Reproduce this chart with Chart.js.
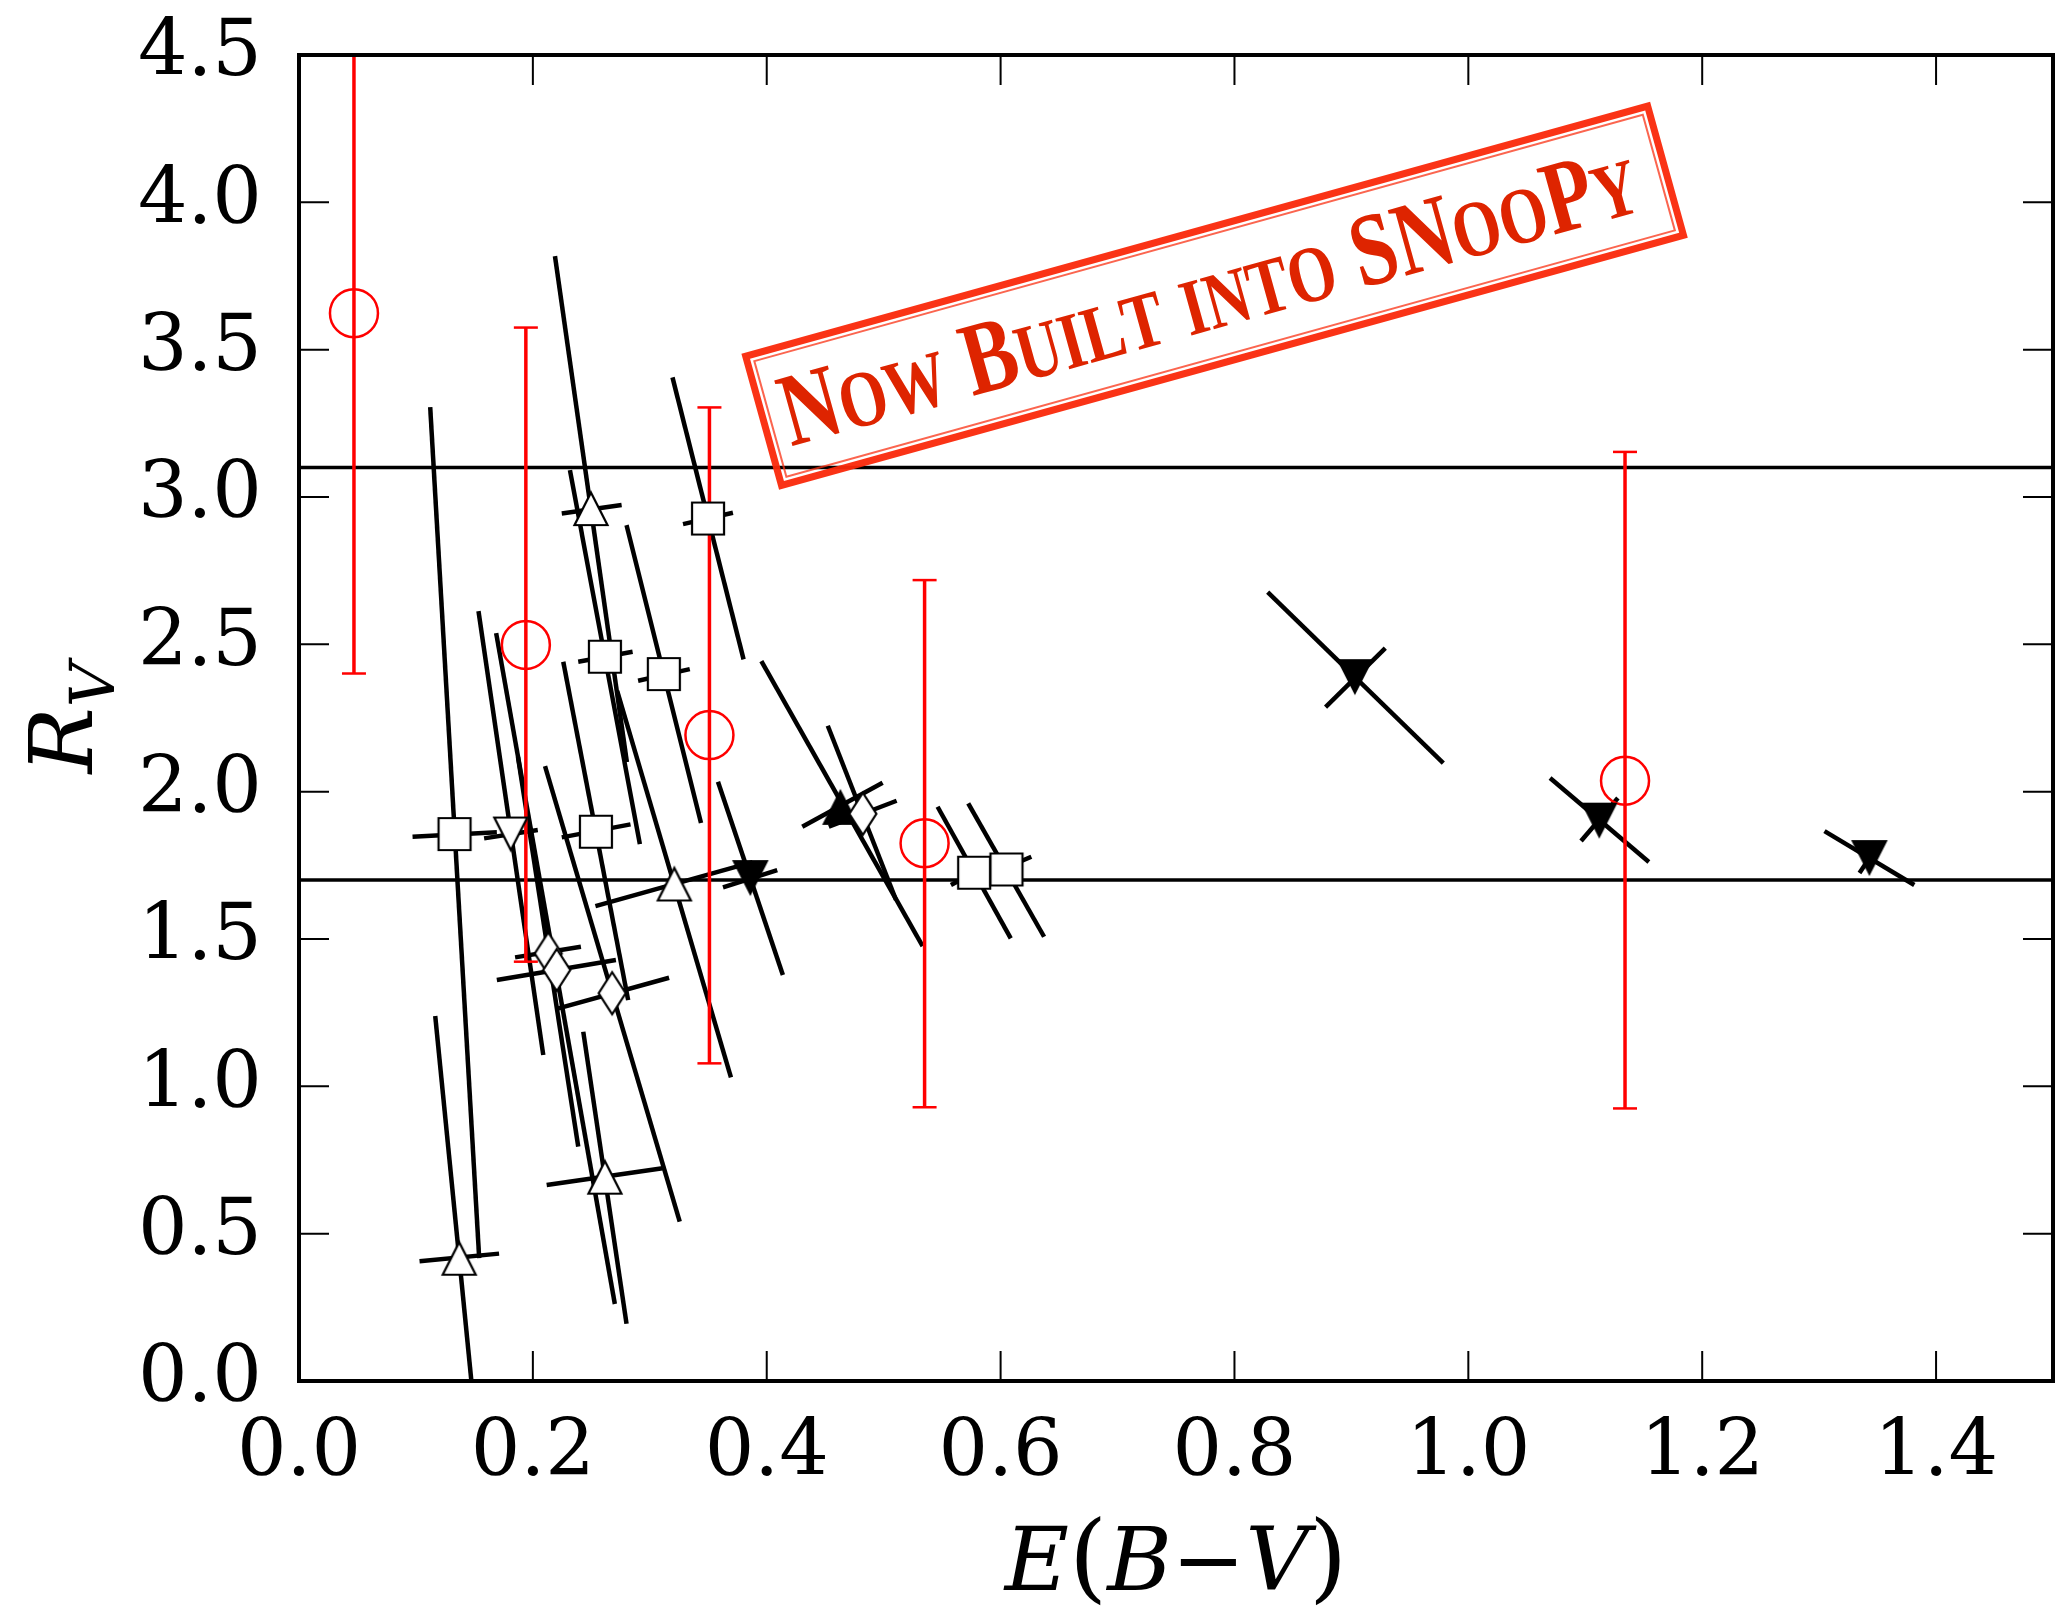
<!DOCTYPE html>
<html>
<head>
<meta charset="utf-8">
<title>R_V vs E(B-V)</title>
<script src="https://cdn.jsdelivr.net/npm/chart.js@4.4.1/dist/chart.umd.min.js"></script>
<style>
  html, body { margin: 0; padding: 0; background: #fff; }
  canvas { display: block; }
</style>
</head>
<body>
<canvas id="rvChart" width="2055" height="1617"></canvas>
<script>
const xTicks = [0.0, 0.2, 0.4, 0.6, 0.8, 1.0, 1.2, 1.4];
const yTicks = [0.0, 0.5, 1.0, 1.5, 2.0, 2.5, 3.0, 3.5, 4.0, 4.5];
const refLevels = [3.1, 1.7];

// red circles with vertical R_V error bars
const redX = [0.047, 0.194, 0.351, 0.535, 1.134];
const redY = [3.624, 2.498, 2.192, 1.825, 2.037];
const redLow = [2.401, 1.423, 1.078, 0.929, 0.925];
const redHigh = [4.85, 3.575, 3.304, 2.718, 3.153];

// black markers, [E(B-V), R_V]
const squares = [[0.133, 1.856], [0.2616, 2.458], [0.2539, 1.864], [0.312, 2.399], [0.3498, 2.927], [0.5774, 1.725], [0.605, 1.736]];
const upTriangles = [[0.137, 0.415], [0.2497, 2.959], [0.321, 1.685], [0.2616, 0.69]];
const downTriangles = [[0.1811, 1.858]];
const filledDown = [[0.386, 1.71], [0.903, 2.392], [1.112, 1.905], [1.343, 1.778]];
const filledUp = [[0.463, 1.945]];
const diamonds = [[0.2132, 1.451], [0.2204, 1.395], [0.2678, 1.316], [0.4822, 1.925]];

// correlated error tracks through the black markers, [x1, y1, x2, y2]
const longTracks = [
  [0.1122, 3.305, 0.1541, 0.4174],
  [0.1165, 1.2385, 0.1575, -0.4038],
  [0.1535, 2.6128, 0.2089, 1.1062],
  [0.1686, 2.5382, 0.2701, 0.2613],
  [0.1873, 2.1174, 0.2388, 0.7957],
  [0.2189, 3.8174, 0.2804, 2.1004],
  [0.2317, 3.0913, 0.2915, 1.8222],
  [0.226, 2.4408, 0.2815, 1.2928],
  [0.2104, 2.0869, 0.3256, 0.5406],
  [0.2431, 1.1853, 0.2801, 0.1944],
  [0.2801, 2.9047, 0.3438, 1.8935],
  [0.2721, 2.3424, 0.3694, 1.0305],
  [0.3194, 3.4058, 0.3802, 2.4489],
  [0.3583, 2.0336, 0.4138, 1.3777],
  [0.3954, 2.4432, 0.5333, 1.4761],
  [0.4522, 2.2236, 0.5106, 1.6322],
  [0.5461, 1.9488, 0.6087, 1.5022],
  [0.5723, 1.9603, 0.6372, 1.5076],
  [0.8284, 2.6773, 0.9786, 2.097],
  [1.0699, 2.0461, 1.1544, 1.7611],
  [1.3046, 1.8663, 1.3814, 1.6831]
];
const shortTracks = [
  [0.0971, 1.847, 0.1692, 1.8619],
  [0.1031, 0.4062, 0.1711, 0.4323],
  [0.1583, 1.8415, 0.2042, 1.8697],
  [0.1848, 1.4377, 0.2411, 1.4737],
  [0.1692, 1.3607, 0.271, 1.4286],
  [0.2247, 2.9443, 0.2759, 2.9725],
  [0.2388, 2.4408, 0.2853, 2.4747],
  [0.2247, 1.8449, 0.2835, 1.889],
  [0.2218, 1.2647, 0.3165, 1.3685],
  [0.2118, 0.6651, 0.3109, 0.7218],
  [0.29, 2.3763, 0.3342, 2.416],
  [0.2535, 1.6118, 0.3879, 1.7611],
  [0.3284, 2.908, 0.3711, 2.9464],
  [0.3626, 1.6753, 0.409, 1.734],
  [0.4304, 1.8809, 0.4991, 2.0302],
  [0.4531, 1.8809, 0.5111, 1.9691],
  [0.5575, 1.6831, 0.5973, 1.7665],
  [0.5834, 1.7068, 0.6263, 1.7791],
  [0.8779, 2.287, 0.929, 2.4873],
  [1.0964, 1.8324, 1.1279, 1.9783],
  [1.3345, 1.7238, 1.3516, 1.8256]
];

const stampText = "Now Built into SNooPy";
const stampAt = { x: 0.783, y: 3.683 };

const SERIF = '"DejaVu Serif", serif';
const RED = "#ff0000";

// matplotlib-like marker glyphs
function makeMarker(kind, filled) {
  const c = document.createElement("canvas");
  c.width = 50; c.height = 50;
  const g = c.getContext("2d");
  g.translate(25, 25);
  g.beginPath();
  if (kind === "square") g.rect(-16, -16, 32, 32);
  if (kind === "up") { g.moveTo(0, -16.5); g.lineTo(16.5, 16); g.lineTo(-16.5, 16); g.closePath(); }
  if (kind === "down") { g.moveTo(0, 16.5); g.lineTo(16.5, -16); g.lineTo(-16.5, -16); g.closePath(); }
  if (kind === "diamond") { g.moveTo(0, -21); g.lineTo(13.5, 0); g.lineTo(0, 21); g.lineTo(-13.5, 0); g.closePath(); }
  g.fillStyle = filled ? "#000" : "#fff";
  g.fill();
  g.lineWidth = 2.2;
  g.strokeStyle = "#000";
  g.stroke();
  return c;
}

const toPts = arr => arr.map(([x, y]) => ({ x, y }));

function segment(x1, y1, x2, y2, color, width, order) {
  return {
    data: [{ x: x1, y: y1 }, { x: x2, y: y2 }],
    showLine: true,
    borderColor: color,
    borderWidth: width,
    borderCapStyle: "butt",
    pointRadius: 0,
    pointHoverRadius: 0,
    order: order
  };
}

function markers(pts, style, order) {
  return {
    data: toPts(pts),
    pointStyle: style,
    pointRadius: 16,
    pointHoverRadius: 16,
    showLine: false,
    order: order
  };
}

const datasets = [];
datasets.push(markers(diamonds, makeMarker("diamond", false), 0));
datasets.push(markers(squares, makeMarker("square", false), 1));
datasets.push(markers(upTriangles, makeMarker("up", false), 1));
datasets.push(markers(downTriangles, makeMarker("down", false), 1));
datasets.push(markers(filledDown, makeMarker("down", true), 2));
datasets.push(markers(filledUp, makeMarker("up", true), 2));

datasets.push({
  data: redX.map((x, i) => ({ x, y: redY[i] })),
  pointStyle: "circle",
  pointRadius: 24,
  pointHoverRadius: 24,
  pointBorderWidth: 2.5,
  pointBorderColor: RED,
  pointBackgroundColor: "rgba(0,0,0,0)",
  showLine: false,
  order: 3
});

redX.forEach((x, i) => {
  const ds = segment(x, redLow[i], x, redHigh[i], RED, 3.5, 4);
  ds.pointStyle = "line";
  ds.pointRadius = 12;
  ds.pointBorderWidth = 2.5;
  ds.pointBorderColor = RED;
  datasets.push(ds);
});

longTracks.concat(shortTracks).forEach(t => {
  datasets.push(segment(t[0], t[1], t[2], t[3], "#000", 4.5, 5));
});

refLevels.forEach(v => datasets.push(segment(0, v, 1.5, v, "#000", 3.5, 6)));

// inward ticks on all four sides plus the frame
const framePlugin = {
  id: "frame",
  afterDatasetsDraw(chart) {
    const { ctx, chartArea: a, scales } = chart;
    ctx.save();
    ctx.strokeStyle = "#000";
    ctx.lineWidth = 2;
    ctx.beginPath();
    xTicks.forEach(v => {
      const px = scales.x.getPixelForValue(v);
      ctx.moveTo(px, a.bottom); ctx.lineTo(px, a.bottom - 30);
      ctx.moveTo(px, a.top); ctx.lineTo(px, a.top + 30);
    });
    yTicks.forEach(v => {
      const py = scales.y.getPixelForValue(v);
      ctx.moveTo(a.left, py); ctx.lineTo(a.left + 30, py);
      ctx.moveTo(a.right, py); ctx.lineTo(a.right - 30, py);
    });
    ctx.stroke();
    ctx.lineWidth = 4;
    ctx.strokeRect(a.left, a.top, a.right - a.left, a.bottom - a.top);
    ctx.restore();
  }
};

// axis titles with math-style italics
const titlesPlugin = {
  id: "titles",
  afterDraw(chart) {
    const { ctx, chartArea: a } = chart;
    ctx.save();
    ctx.fillStyle = "#000";
    ctx.textBaseline = "alphabetic";
    ctx.textAlign = "left";

    // x: E(B-V)
    const parts = [
      ["E", "italic 88px " + SERIF],
      ["(", "98px " + SERIF],
      ["B", "italic 88px " + SERIF],
      ["\u2212", "88px " + SERIF],
      ["V", "italic 88px " + SERIF],
      [")", "98px " + SERIF]
    ];
    let total = 0;
    const widths = parts.map(([t, f]) => { ctx.font = f; const w = ctx.measureText(t).width; total += w; return w; });
    let cx = (a.left + a.right) / 2 - total / 2;
    parts.forEach(([t, f], i) => { ctx.font = f; ctx.fillText(t, cx, 1590); cx += widths[i]; });

    // y: R_V
    ctx.translate(92, (a.top + a.bottom) / 2);
    ctx.rotate(-Math.PI / 2);
    ctx.font = "italic 88px " + SERIF;
    const wR = ctx.measureText("R").width;
    ctx.font = "italic 62px " + SERIF;
    const wV = ctx.measureText("V").width;
    const start = -(wR + wV) / 2;
    ctx.font = "italic 88px " + SERIF;
    ctx.fillText("R", start, 0);
    ctx.font = "italic 62px " + SERIF;
    ctx.fillText("V", start + wR, 22);
    ctx.restore();
  }
};

// the red rubber-stamp note
const stampPlugin = {
  id: "stamp",
  afterDraw(chart) {
    const { ctx, scales } = chart;
    const cx = scales.x.getPixelForValue(stampAt.x);
    const cy = scales.y.getPixelForValue(stampAt.y);
    ctx.save();
    ctx.translate(cx, cy);
    ctx.rotate(-15.5 * Math.PI / 180);

    const w = 936, h = 134;
    ctx.strokeStyle = "rgba(250,40,10,0.95)";
    ctx.lineWidth = 7;
    ctx.strokeRect(-w / 2, -h / 2, w, h);
    ctx.lineWidth = 2;
    ctx.strokeStyle = "rgba(250,50,20,0.75)";
    ctx.strokeRect(-w / 2 + 7, -h / 2 + 7, w - 14, h - 14);

    const big = 104, small = 80;
    const font = s => "bold " + s + 'px "Liberation Serif", serif';
    const glyphs = stampText.split("").map(ch => {
      const isSmall = ch !== " " && ch === ch.toLowerCase();
      return { t: isSmall ? ch.toUpperCase() : ch, f: font(isSmall ? small : big) };
    });
    let total = 0;
    glyphs.forEach(gl => { ctx.font = gl.f; gl.w = ctx.measureText(gl.t).width; total += gl.w; });
    const targetW = 885;
    ctx.scale(targetW / total, 1);
    let x = -total / 2 - 6 * total / targetW;
    ctx.fillStyle = "rgb(222,36,0)";
    ctx.textBaseline = "alphabetic";
    glyphs.forEach(gl => { ctx.font = gl.f; ctx.fillText(gl.t, x, 32); x += gl.w; });
    ctx.restore();
  }
};

new Chart(document.getElementById("rvChart"), {
  type: "scatter",
  data: { datasets: datasets },
  options: {
    responsive: false,
    devicePixelRatio: 1,
    animation: false,
    events: [],
    layout: { autoPadding: false, padding: { top: 55, right: 2, left: 0, bottom: 0 } },
    plugins: {
      legend: { display: false },
      tooltip: { enabled: false }
    },
    scales: {
      x: {
        type: "linear",
        min: 0,
        max: 1.5,
        grid: { display: false, drawTicks: false },
        border: { display: false },
        afterBuildTicks: s => { s.ticks = xTicks.map(v => ({ value: v })); },
        afterFit: s => { s.height = 236; s.paddingLeft = 0; s.paddingRight = 0; },
        ticks: {
          padding: 27,
          color: "#000",
          font: { family: "DejaVu Serif", size: 78 },
          callback: v => v.toFixed(1)
        }
      },
      y: {
        type: "linear",
        min: 0,
        max: 4.5,
        grid: { display: false, drawTicks: false },
        border: { display: false },
        afterBuildTicks: s => { s.ticks = yTicks.map(v => ({ value: v })); },
        afterFit: s => { s.width = 299; s.paddingTop = 0; s.paddingBottom = 0; },
        ticks: {
          padding: 37,
          color: "#000",
          font: { family: "DejaVu Serif", size: 78 },
          callback: v => v.toFixed(1)
        }
      }
    }
  },
  plugins: [framePlugin, titlesPlugin, stampPlugin]
});
</script>
</body>
</html>
